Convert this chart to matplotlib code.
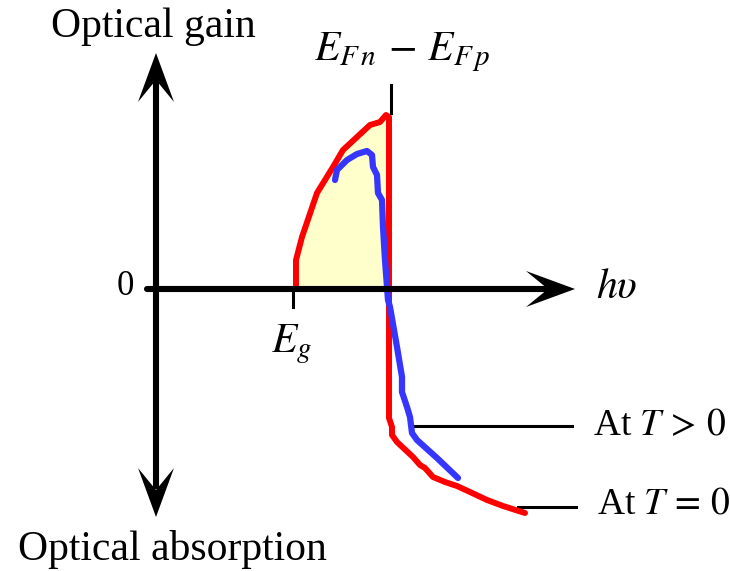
import matplotlib
matplotlib.use("Agg")
import matplotlib.pyplot as plt
from matplotlib.patches import Polygon
import numpy as np

plt.rcParams["font.family"] = ["Liberation Serif", "DejaVu Serif"]
plt.rcParams["mathtext.fontset"] = "stix"

# photon energy (arbitrary units) and gain / absorption for the two temperatures
energy_t0 = [1.41, 1.41, 1.47, 1.62, 1.78, 1.88, 2.15, 2.25, 2.31, 2.34,
             2.34, 2.37, 2.37, 2.42, 2.58, 2.65, 2.70, 2.78, 2.90, 3.02,
             3.15, 3.32, 3.48, 3.70]
gain_t0 = [0.0, 0.29, 0.52, 0.96, 1.22, 1.39, 1.64, 1.67, 1.74, 1.72,
           -1.29, -1.38, -1.46, -1.53, -1.68, -1.76, -1.79, -1.88, -1.93, -1.97,
           -2.03, -2.11, -2.17, -2.24]

energy_t = [1.80, 1.82, 1.92, 2.02, 2.12, 2.17, 2.18, 2.22, 2.23, 2.27,
            2.28, 2.30, 2.33, 2.35, 2.42, 2.47, 2.47, 2.52, 2.55, 2.57,
            2.62, 2.82, 3.03]
gain_t = [1.09, 1.19, 1.29, 1.35, 1.38, 1.34, 1.22, 1.14, 0.96, 0.89,
          0.62, 0.29, -0.11, -0.18, -0.58, -0.88, -1.03, -1.18, -1.28, -1.44,
          -1.51, -1.69, -1.89]

e_gap = 1.38
e_fermi = 2.36

fig = plt.figure(figsize=(7.30, 5.71), dpi=100)
ax = fig.add_axes([0, 0, 1, 1])
ax.set_xlim(-1.55, 5.75)
ax.set_ylim(-2.82, 2.89)
ax.axis("off")


def arrow_head(ax, tip, direction, length=0.49, half_width=0.18, notch=0.27):
    """Stealth-style arrow head with a swept back"""
    d = np.array(direction, dtype=float)
    d /= np.hypot(*d)
    n = np.array([-d[1], d[0]])
    tip = np.array(tip, dtype=float)
    base = tip - d * length
    pts = [tip, base + n * half_width, tip - d * notch, base - n * half_width]
    ax.add_patch(Polygon(pts, closed=True, color="black", lw=0, zorder=5))


# axes
axis_lw = 4.4
ax.plot([0.01, 0.01], [-2.0, 2.1], color="black", lw=axis_lw, solid_capstyle="butt", zorder=4)
arrow_head(ax, (0.01, 2.36), (0, 1))
arrow_head(ax, (0.01, -2.28), (0, -1))
ax.plot([-0.08, 3.95], [0, 0], color="black", lw=axis_lw, solid_capstyle="round", zorder=4)
arrow_head(ax, (4.20, 0), (1, 0))

# gain region under the T = 0 curve
n_pos = 10
ax.fill_between(energy_t0[:n_pos], gain_t0[:n_pos], 0, color="#FFFFCC", lw=0, zorder=1)

ax.plot(energy_t0, gain_t0, color="#FF0000", lw=4.3, solid_joinstyle="round",
        solid_capstyle="round", zorder=3)
ax.plot(energy_t, gain_t, color="#3636FF", lw=4.5, solid_joinstyle="round",
        solid_capstyle="round", zorder=3)

# ticks for Eg and the quasi-Fermi level separation
ax.plot([e_gap, e_gap], [0, -0.18], color="black", lw=2.2, zorder=4)
ax.plot([e_fermi, e_fermi], [1.76, 2.04], color="black", lw=2.2, zorder=4)

# leader lines to the curve labels
ax.plot([2.60, 4.17], [-1.37, -1.37], color="black", lw=2.2)
ax.plot([3.63, 4.21], [-2.18, -2.18], color="black", lw=2.2)

ax.text(-0.02, 2.52, "Optical gain", fontsize=30, ha="center", va="baseline")
ax.text(0.17, -2.71, "Optical absorption", fontsize=30, ha="center", va="baseline")
ax.text(-0.30, -0.06, "0", fontsize=25, ha="center", va="baseline")
ax.text(e_gap - 0.01, -0.63, r"$E_{g}$", fontsize=30, ha="center", va="baseline")
ax.text(2.47, 2.29, r"$E_{F\,n}\,-\,E_{F\,p}$", fontsize=30, ha="center", va="baseline")
ax.text(4.62, -0.09, r"$h\upsilon$", fontsize=30, ha="center", va="baseline")
ax.text(4.38, -1.46, r"At $T\,>\,0$", fontsize=27, ha="left", va="baseline")
ax.text(4.42, -2.24, r"At $T\,=\,0$", fontsize=27, ha="left", va="baseline")

fig.savefig("out.png", dpi=100)
